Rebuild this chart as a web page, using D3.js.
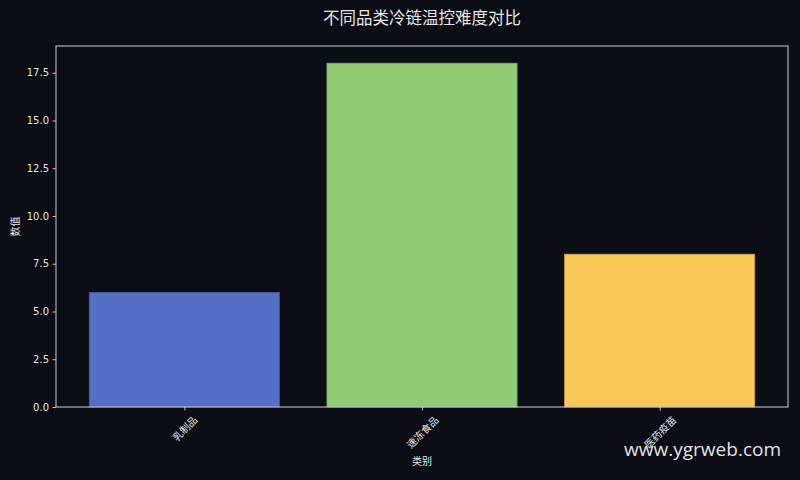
<!DOCTYPE html>
<html>
<head>
<meta charset="utf-8">
<script src="https://cdn.jsdelivr.net/npm/d3@7"></script>
<style>
  html, body { margin: 0; padding: 0; background: #0b0e14; }
  text { font-family: "DejaVu Sans", "Noto Sans CJK SC", sans-serif; }
  .cjk { font-family: "Noto Sans CJK SC", "DejaVu Sans", sans-serif; }
</style>
</head>
<body>
<svg id="chart"></svg>
<script>
const categories = ['乳制品', '速冻食品', '医药疫苗'];
const values = [6, 18, 8];
const barColors = ['#5470c6', '#91cc75', '#fac858'];
const yTicks = [0, 2.5, 5, 7.5, 10, 12.5, 15, 17.5];

const width = 800;
const height = 480;
const margin = { top: 46, right: 12, bottom: 73, left: 56 };
const plotW = width - margin.left - margin.right;
const plotH = height - margin.top - margin.bottom;
const fg = '#e6e6e6';

const svg = d3.select('#chart')
    .attr('width', width)
    .attr('height', height);

svg.append('rect')
    .attr('width', width)
    .attr('height', height)
    .attr('fill', '#0b0e14');

// matplotlib-like limits: bars of width 0.8, 5% margins
const barW = 0.8;
const xMin = -barW / 2, xMax = categories.length - 1 + barW / 2;
const xPad = (xMax - xMin) * 0.05;
const x = d3.scaleLinear()
    .domain([xMin - xPad, xMax + xPad])
    .range([0, plotW]);

const y = d3.scaleLinear()
    .domain([0, d3.max(values) * 1.05])
    .range([plotH, 0]);

const g = svg.append('g')
    .attr('transform', 'translate(' + margin.left + ',' + margin.top + ')');

g.selectAll('rect.bar')
    .data(values)
    .enter()
    .append('rect')
    .attr('class', 'bar')
    .attr('x', (d, i) => x(i - barW / 2))
    .attr('y', d => y(d))
    .attr('width', (d, i) => x(i + barW / 2) - x(i - barW / 2))
    .attr('height', d => plotH - y(d))
    .attr('fill', (d, i) => barColors[i])
    .attr('stroke', (d, i) => d3.color(barColors[i]).darker(0.6))
    .attr('stroke-width', 0.8);

// y axis
const yAxis = d3.axisLeft(y)
    .tickValues(yTicks)
    .tickFormat(d3.format('.1f'))
    .tickSize(3.5)
    .tickPadding(3.5);

const yg = g.append('g').call(yAxis);
yg.select('.domain').remove();
yg.selectAll('line').attr('stroke', fg).attr('stroke-width', 0.8);
yg.selectAll('text').attr('fill', fg).style('font-size', '10px');

// x axis
const xAxis = d3.axisBottom(x)
    .tickValues(d3.range(categories.length))
    .tickFormat('')
    .tickSize(3.5);

const xg = g.append('g')
    .attr('transform', 'translate(0,' + plotH + ')')
    .call(xAxis);
xg.select('.domain').remove();
xg.selectAll('line').attr('stroke', fg).attr('stroke-width', 0.8);

// rotated category labels, centred on tick like matplotlib ha='center'
const labelTop = plotH + 3.5 + 3.5;
categories.forEach((c, i) => {
    const t = g.append('text')
        .attr('class', 'cjk')
        .attr('fill', fg)
        .style('font-size', '10px')
        .attr('text-anchor', 'middle')
        .attr('dominant-baseline', 'central')
        .text(c);
    const len = t.node().getComputedTextLength();
    const h = (len + 10) / Math.SQRT2;
    t.attr('transform', 'translate(' + x(i) + ',' + (labelTop + h / 2) + ') rotate(-45)');
});

// frame
g.append('rect')
    .attr('width', plotW)
    .attr('height', plotH)
    .attr('fill', 'none')
    .attr('stroke', '#cfcfcf')
    .attr('stroke-width', 1);

// titles
svg.append('text')
    .attr('class', 'cjk')
    .attr('x', margin.left + plotW / 2)
    .attr('y', 24)
    .attr('text-anchor', 'middle')
    .attr('fill', fg)
    .style('font-size', '16.5px')
    .text('不同品类冷链温控难度对比');

svg.append('text')
    .attr('class', 'cjk')
    .attr('x', margin.left + plotW / 2)
    .attr('y', 465)
    .attr('text-anchor', 'middle')
    .attr('fill', fg)
    .style('font-size', '10px')
    .text('类别');

svg.append('text')
    .attr('class', 'cjk')
    .attr('transform', 'translate(19,' + (margin.top + plotH / 2) + ') rotate(-90)')
    .attr('text-anchor', 'middle')
    .attr('fill', fg)
    .style('font-size', '10px')
    .text('数值');

// watermark
svg.append('text')
    .attr('x', 781)
    .attr('y', 456)
    .attr('text-anchor', 'end')
    .attr('fill', '#ffffff')
    .attr('fill-opacity', 0.9)
    .style('font-family', '"Open Sans", "DejaVu Sans", sans-serif')
    .style('font-size', '19px')
    .text('www.ygrweb.com');
</script>
</body>
</html>
